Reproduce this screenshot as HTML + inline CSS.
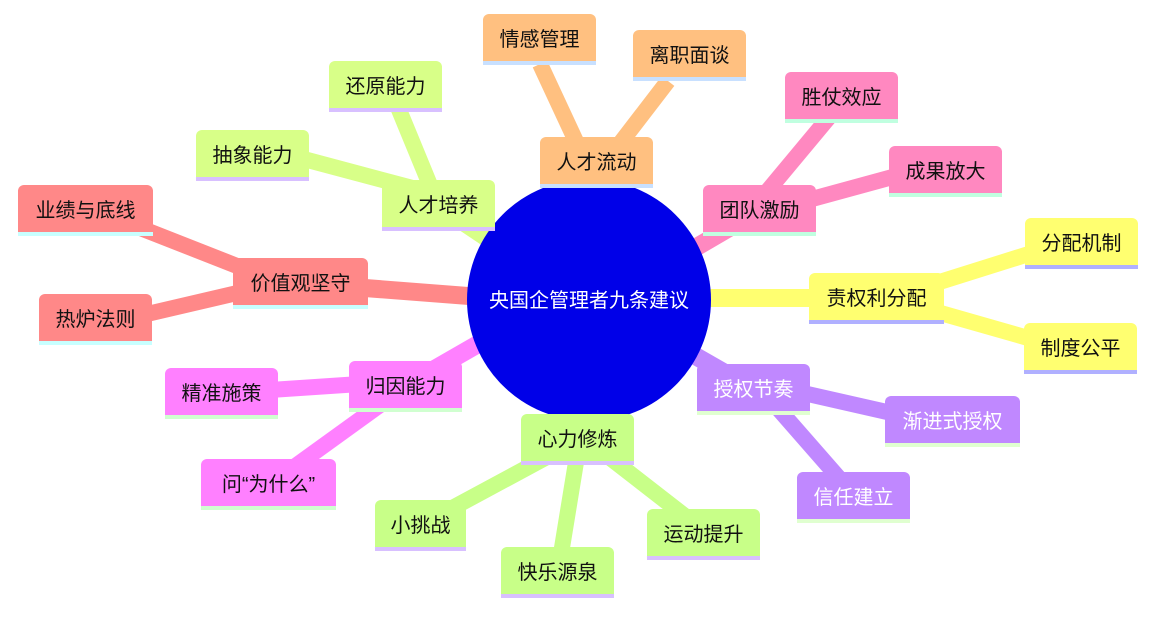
<!DOCTYPE html>
<html><head><meta charset="utf-8"><style>
body{margin:0;width:1153px;height:620px;background:#fff;position:relative;overflow:hidden;font-family:"Liberation Sans","Noto Sans CJK SC",sans-serif}
.n{position:absolute;height:47px;border-radius:6px 6px 0 0;border-bottom:4px solid;display:flex;align-items:center;justify-content:center;font-size:20px;color:#111;box-sizing:content-box}
.w{color:#fff}
svg{position:absolute;left:0;top:0}
</style></head><body>
<svg width="1153" height="620">
<g stroke-linecap="butt" fill="none">
<g stroke="#ffc080"><line x1="589" y1="300" x2="596" y2="162" stroke-width="18"/><line x1="580" y1="150" x2="540" y2="64" stroke-width="16"/><line x1="615" y1="150" x2="668" y2="81" stroke-width="16"/></g>
<g stroke="#ff88c0"><line x1="640" y1="280" x2="760" y2="210" stroke-width="18"/><line x1="760" y1="200" x2="835" y2="110" stroke-width="16"/><line x1="790" y1="205" x2="900" y2="175" stroke-width="16"/></g>
<g stroke="#ffff70"><line x1="650" y1="298" x2="876" y2="298" stroke-width="18"/><line x1="930" y1="285" x2="1035" y2="252" stroke-width="16"/><line x1="930" y1="310" x2="1035" y2="340" stroke-width="16"/></g>
<g stroke="#c088ff"><line x1="650" y1="330" x2="753" y2="389" stroke-width="18"/><line x1="790" y1="390" x2="900" y2="415" stroke-width="16"/><line x1="775" y1="405" x2="845" y2="485" stroke-width="16"/></g>
<g stroke="#c8ff88"><line x1="589" y1="340" x2="577" y2="439" stroke-width="18"/><line x1="560" y1="450" x2="430" y2="520" stroke-width="16"/><line x1="578" y1="450" x2="560" y2="560" stroke-width="16"/><line x1="600" y1="450" x2="690" y2="520" stroke-width="16"/></g>
<g stroke="#ff80ff"><line x1="520" y1="320" x2="405" y2="386" stroke-width="18"/><line x1="360" y1="384" x2="270" y2="390" stroke-width="16"/><line x1="380" y1="405" x2="290" y2="470" stroke-width="16"/></g>
<g stroke="#ff8888"><line x1="520" y1="300" x2="300" y2="283" stroke-width="18"/><line x1="260" y1="275" x2="120" y2="220" stroke-width="16"/><line x1="250" y1="290" x2="130" y2="318" stroke-width="16"/></g>
<g stroke="#d8ff88"><line x1="520" y1="260" x2="438" y2="205" stroke-width="18"/><line x1="420" y1="190" x2="300" y2="158" stroke-width="16"/><line x1="430" y1="185" x2="395" y2="100" stroke-width="16"/></g>
</g>
<ellipse cx="589" cy="300" rx="122" ry="121" fill="#0000e8"/>
<text x="589" y="307" fill="#fff" font-size="20" text-anchor="middle" font-family="Liberation Sans,Noto Sans CJK SC,sans-serif">央国企管理者九条建议</text>
</svg>
<div class="n" style="left:483px;top:14px;width:113px;background:#ffc080;border-color:#c8e0ff">情感管理</div>
<div class="n" style="left:633px;top:30px;width:113px;background:#ffc080;border-color:#c8e0ff">离职面谈</div>
<div class="n" style="left:540px;top:137px;width:113px;background:#ffc080;border-color:#c8e0ff">人才流动</div>
<div class="n" style="left:785px;top:72px;width:113px;background:#ff88c0;border-color:#c0ffe0">胜仗效应</div>
<div class="n" style="left:889px;top:146px;width:113px;background:#ff88c0;border-color:#c0ffe0">成果放大</div>
<div class="n" style="left:703px;top:185px;width:113px;background:#ff88c0;border-color:#c0ffe0">团队激励</div>
<div class="n" style="left:1025px;top:218px;width:113px;background:#ffff70;border-color:#b0b0ff">分配机制</div>
<div class="n" style="left:809px;top:273px;width:135px;background:#ffff70;border-color:#b0b0ff">责权利分配</div>
<div class="n" style="left:1024px;top:323px;width:113px;background:#ffff70;border-color:#b0b0ff">制度公平</div>
<div class="n w" style="left:697px;top:364px;width:113px;background:#c088ff;border-color:#e0ffd0">授权节奏</div>
<div class="n w" style="left:885px;top:396px;width:135px;background:#c088ff;border-color:#e0ffd0">渐进式授权</div>
<div class="n w" style="left:797px;top:472px;width:113px;background:#c088ff;border-color:#e0ffd0">信任建立</div>
<div class="n" style="left:521px;top:414px;width:113px;background:#c8ff88;border-color:#d8c0ff">心力修炼</div>
<div class="n" style="left:647px;top:509px;width:113px;background:#c8ff88;border-color:#d8c0ff">运动提升</div>
<div class="n" style="left:501px;top:547px;width:113px;background:#c8ff88;border-color:#d8c0ff">快乐源泉</div>
<div class="n" style="left:375px;top:500px;width:91px;background:#c8ff88;border-color:#d8c0ff">小挑战</div>
<div class="n" style="left:349px;top:361px;width:113px;background:#ff80ff;border-color:#d0ffd0">归因能力</div>
<div class="n" style="left:165px;top:368px;width:113px;background:#ff80ff;border-color:#d0ffd0">精准施策</div>
<div class="n" style="left:201px;top:459px;width:135px;background:#ff80ff;border-color:#d0ffd0">问“为什么”</div>
<div class="n" style="left:233px;top:258px;width:135px;background:#ff8888;border-color:#c8ffff">价值观坚守</div>
<div class="n" style="left:18px;top:185px;width:135px;background:#ff8888;border-color:#c8ffff">业绩与底线</div>
<div class="n" style="left:39px;top:294px;width:113px;background:#ff8888;border-color:#c8ffff">热炉法则</div>
<div class="n" style="left:382px;top:180px;width:113px;background:#d8ff88;border-color:#d8c0ff">人才培养</div>
<div class="n" style="left:196px;top:130px;width:113px;background:#d8ff88;border-color:#d8c0ff">抽象能力</div>
<div class="n" style="left:329px;top:61px;width:113px;background:#d8ff88;border-color:#d8c0ff">还原能力</div>
</body></html>
